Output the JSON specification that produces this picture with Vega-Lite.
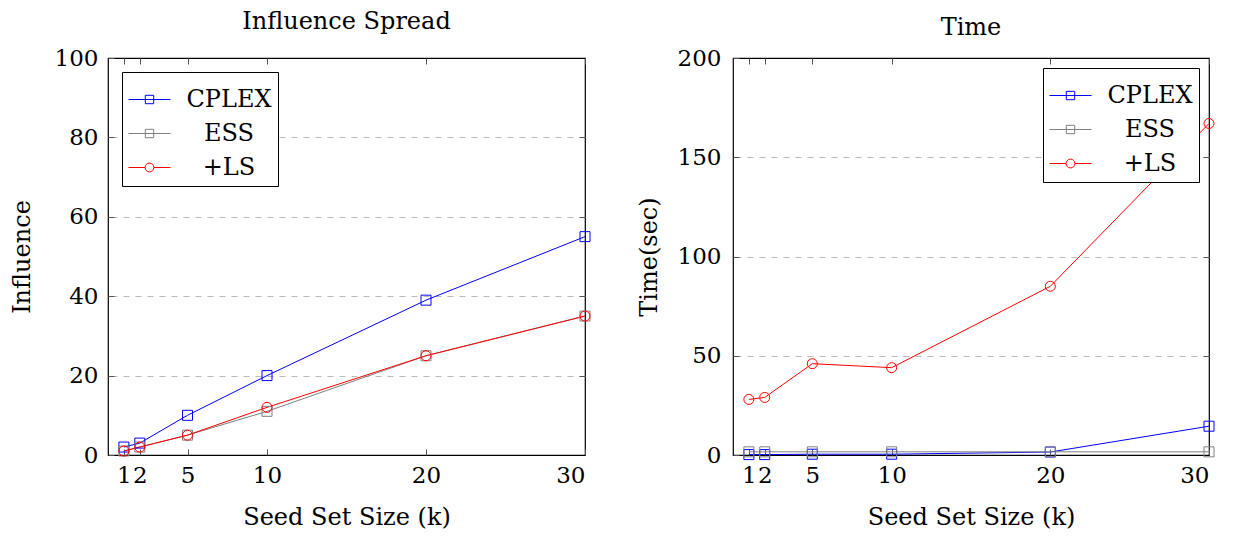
{
  "$schema": "https://vega.github.io/schema/vega-lite/v6.json",
  "padding": {"left": 9, "top": 9, "right": 5, "bottom": 5},
  "background": "white",
  "datasets": {
    "influence": [
      {"k": 1, "series": "CPLEX", "v": 2}, {"k": 2, "series": "CPLEX", "v": 3}, {"k": 5, "series": "CPLEX", "v": 10},
      {"k": 10, "series": "CPLEX", "v": 20}, {"k": 20, "series": "CPLEX", "v": 39}, {"k": 30, "series": "CPLEX", "v": 55},
      {"k": 1, "series": "ESS", "v": 1}, {"k": 2, "series": "ESS", "v": 2}, {"k": 5, "series": "ESS", "v": 5},
      {"k": 10, "series": "ESS", "v": 11}, {"k": 20, "series": "ESS", "v": 25}, {"k": 30, "series": "ESS", "v": 35},
      {"k": 1, "series": "+LS", "v": 1}, {"k": 2, "series": "+LS", "v": 2}, {"k": 5, "series": "+LS", "v": 5},
      {"k": 10, "series": "+LS", "v": 12}, {"k": 20, "series": "+LS", "v": 25}, {"k": 30, "series": "+LS", "v": 35}
    ],
    "time": [
      {"k": 1, "series": "CPLEX", "v": 0.2}, {"k": 2, "series": "CPLEX", "v": 0.2}, {"k": 5, "series": "CPLEX", "v": 0.4},
      {"k": 10, "series": "CPLEX", "v": 0.4}, {"k": 20, "series": "CPLEX", "v": 1.5}, {"k": 30, "series": "CPLEX", "v": 14.5},
      {"k": 1, "series": "ESS", "v": 1.6}, {"k": 2, "series": "ESS", "v": 1.6}, {"k": 5, "series": "ESS", "v": 1.6},
      {"k": 10, "series": "ESS", "v": 1.6}, {"k": 20, "series": "ESS", "v": 1.6}, {"k": 30, "series": "ESS", "v": 1.6},
      {"k": 1, "series": "+LS", "v": 28}, {"k": 2, "series": "+LS", "v": 29}, {"k": 5, "series": "+LS", "v": 46},
      {"k": 10, "series": "+LS", "v": 44}, {"k": 20, "series": "+LS", "v": 85}, {"k": 30, "series": "+LS", "v": 167}
    ]
  },
  "config": {
    "font": "DejaVu Serif",
    "view": {"stroke": "black", "strokeWidth": 1.2},
    "title": {"fontSize": 24, "fontWeight": "normal", "font": "DejaVu Serif", "color": "black"},
    "axis": {
      "labelFont": "DejaVu Serif", "labelFontSize": 23, "labelColor": "black",
      "titleFont": "DejaVu Serif", "titleFontSize": 24, "titleFontWeight": "normal", "titleColor": "black",
      "domain": false, "tickColor": "#555555", "tickSize": -6, "tickWidth": 1,
      "gridColor": "#bbbbbb", "gridDash": [6, 6], "gridWidth": 1
    },
    "legend": {
      "labelFont": "DejaVu Serif", "labelFontSize": 24, "labelColor": "black"
    }
  },
  "hconcat": [
    {
      "width": 477, "height": 397,
      "title": {"text": "Influence Spread", "offset": 13},
      "data": {"name": "influence"},
      "layer": [
        {
          "layer": [
            {"mark": {"type": "line", "strokeWidth": 1}},
            {"mark": {"type": "point", "filled": false, "size": 100, "strokeWidth": 1, "opacity": 1},
             "encoding": {"shape": {"field": "series", "type": "nominal", "scale": {"domain": ["CPLEX", "ESS", "+LS"], "range": ["square", "square", "circle"]}, "legend": null}}}
          ],
          "encoding": {
            "x": {"field": "k", "type": "quantitative", "scale": {"domain": [0, 30], "nice": false},
                  "axis": {"values": [1, 2, 5, 10, 20, 30], "grid": false, "labelPadding": 15, "title": "Seed Set Size (k)", "titlePadding": 18}},
            "y": {"field": "v", "type": "quantitative", "scale": {"domain": [0, 100], "nice": false},
                  "axis": {"values": [0, 20, 40, 60, 80, 100], "grid": false, "labelPadding": 16, "title": "Influence", "titlePadding": 20}},
            "color": {"field": "series", "type": "nominal", "sort": ["CPLEX", "ESS", "+LS"],
                      "scale": {"domain": ["CPLEX", "ESS", "+LS"], "range": ["#0000ff", "#808080", "#ff0000"]},
                      "legend": {
                        "title": null, "orient": "top-left", "offset": 14,
                        "strokeColor": "black", "fillColor": "white", "padding": 6,
                        "labelAlign": "center", "labelOffset": 58,
                        "symbolSize": 1764, "symbolStrokeWidth": 1, "rowPadding": 0,
                        "encode": {
                          "legend": {"update": {"width": {"value": 166}}},
                          "symbols": {"update": {
                          "shape": {"signal": "datum.value === '+LS' ? 'M-1,0H-0.21M0.21,0H1M-0.21,0A0.21,0.21 0 1,0 0.21,0A0.21,0.21 0 1,0 -0.21,0Z' : 'M-1,0H1M-0.2,-0.2H0.2V0.2H-0.2Z'"},
                          "fill": {"value": "transparent"},
                          "strokeWidth": {"value": 1}
                        }}}
                      }}
          }
        },
        {
          "mark": {"type": "point", "opacity": 0},
          "encoding": {
            "x": {"field": "k", "type": "quantitative", "axis": {"orient": "top", "values": [1, 2, 5, 10, 20, 30], "labels": false, "title": null, "grid": false}},
            "y": {"field": "v", "type": "quantitative", "axis": {"orient": "right", "values": [20, 40, 60, 80], "labels": false, "title": null, "grid": true}}
          }
        }
      ],
      "resolve": {"axis": {"x": "independent", "y": "independent"}}
    },
    {
      "width": 476, "height": 397,
      "title": {"text": "Time", "offset": 7},
      "data": {"name": "time"},
      "layer": [
        {
          "layer": [
            {"mark": {"type": "line", "strokeWidth": 1}},
            {"mark": {"type": "point", "filled": false, "size": 100, "strokeWidth": 1, "opacity": 1},
             "encoding": {"shape": {"field": "series", "type": "nominal", "scale": {"domain": ["CPLEX", "ESS", "+LS"], "range": ["square", "square", "circle"]}, "legend": null}}}
          ],
          "encoding": {
            "x": {"field": "k", "type": "quantitative", "scale": {"domain": [0, 30], "nice": false},
                  "axis": {"values": [1, 2, 5, 10, 20, 30], "grid": false, "labelPadding": 15, "title": "Seed Set Size (k)", "titlePadding": 18}},
            "y": {"field": "v", "type": "quantitative", "scale": {"domain": [0, 200], "nice": false},
                  "axis": {"values": [0, 50, 100, 150, 200], "grid": false, "labelPadding": 18, "title": "Time(sec)", "titlePadding": 16}},
            "color": {"field": "series", "type": "nominal", "sort": ["CPLEX", "ESS", "+LS"],
                      "scale": {"domain": ["CPLEX", "ESS", "+LS"], "range": ["#0000ff", "#808080", "#ff0000"]},
                      "legend": {
                        "title": null, "orient": "top-right", "offset": 10,
                        "strokeColor": "black", "fillColor": "white", "padding": 6,
                        "labelAlign": "center", "labelOffset": 58,
                        "symbolSize": 1764, "symbolStrokeWidth": 1, "rowPadding": 0,
                        "encode": {
                          "legend": {"update": {"width": {"value": 166}}},
                          "symbols": {"update": {
                          "shape": {"signal": "datum.value === '+LS' ? 'M-1,0H-0.21M0.21,0H1M-0.21,0A0.21,0.21 0 1,0 0.21,0A0.21,0.21 0 1,0 -0.21,0Z' : 'M-1,0H1M-0.2,-0.2H0.2V0.2H-0.2Z'"},
                          "fill": {"value": "transparent"},
                          "strokeWidth": {"value": 1}
                        }}}
                      }}
          }
        },
        {
          "mark": {"type": "point", "opacity": 0},
          "encoding": {
            "x": {"field": "k", "type": "quantitative", "axis": {"orient": "top", "values": [1, 2, 5, 10, 20, 30], "labels": false, "title": null, "grid": false}},
            "y": {"field": "v", "type": "quantitative", "axis": {"orient": "right", "values": [50, 100, 150], "labels": false, "title": null, "grid": true}}
          }
        }
      ],
      "resolve": {"axis": {"x": "independent", "y": "independent"}}
    }
  ],
  "spacing": 148,
  "bounds": "flush"
}
